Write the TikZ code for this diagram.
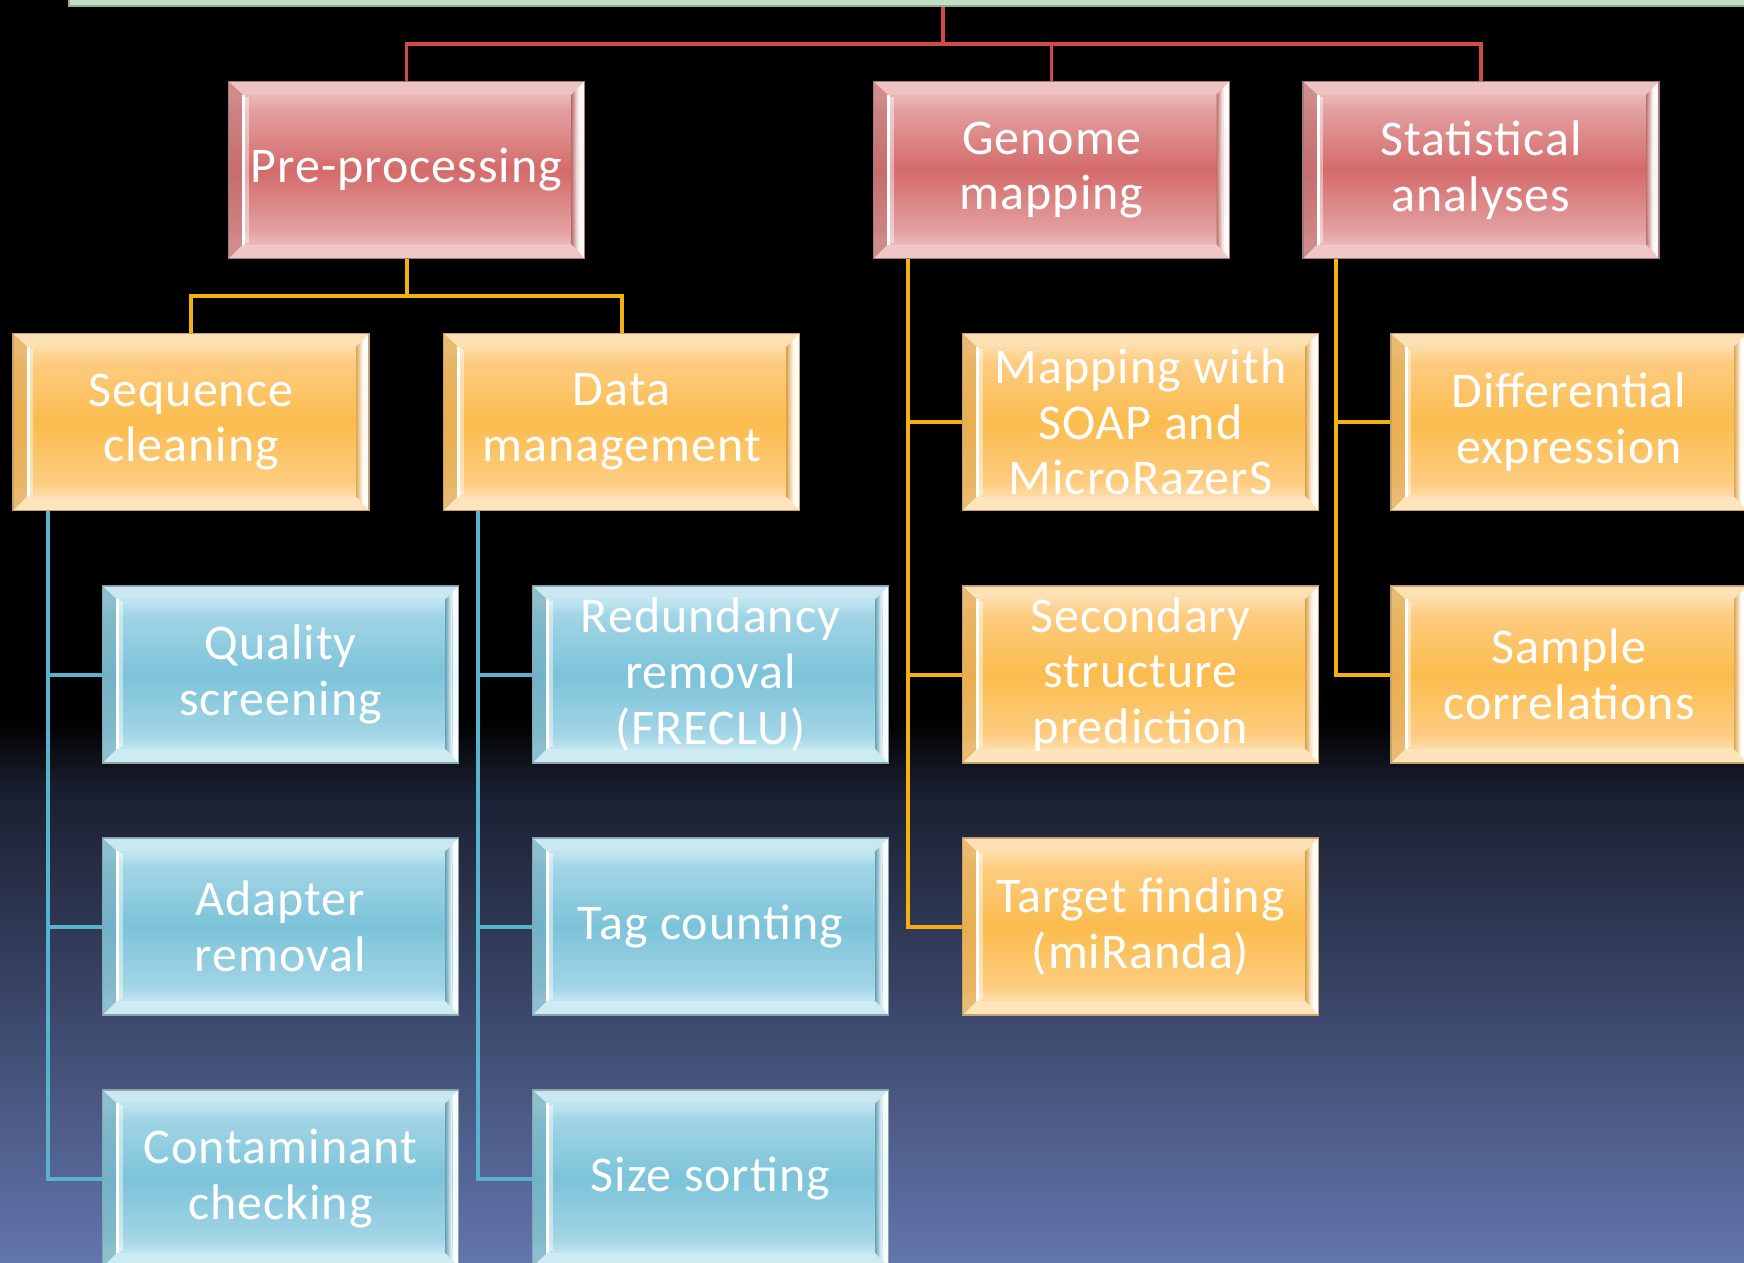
\documentclass[tikz,border=0pt]{standalone}
\usepackage{fontspec}
\setmainfont[LetterSpace=2]{Carlito}
\definecolor{rL}{HTML}{EBB5B5}
\definecolor{rM1}{HTML}{E3A0A0}
\definecolor{rM}{HTML}{D46A6A}
\definecolor{redbd}{HTML}{A07C7C}
\definecolor{reddk}{HTML}{BE7070}
\definecolor{oL}{HTML}{FDDBA4}
\definecolor{oM1}{HTML}{FDCC80}
\definecolor{oM}{HTML}{FBBC4E}
\definecolor{orabd}{HTML}{C4A26A}
\definecolor{oradk}{HTML}{DDA652}
\definecolor{bL}{HTML}{BEE4F0}
\definecolor{bM1}{HTML}{A2D5E5}
\definecolor{bM}{HTML}{7CC3D9}
\definecolor{blubd}{HTML}{8CA4AC}
\definecolor{bludk}{HTML}{6CA8BA}
\definecolor{redln}{HTML}{D04A4A}
\definecolor{oraln}{HTML}{F4B00E}
\definecolor{bluln}{HTML}{58B4CE}
\definecolor{bgmid}{HTML}{1A1F30}
\definecolor{bgbot}{HTML}{6275AD}
\definecolor{grn}{HTML}{C3DFC3}
\definecolor{grnbd}{HTML}{8FAF8F}
\pgfdeclareverticalshading{redshade}{100bp}{color(0bp)=(rL); color(29.5bp)=(rL); color(33bp)=(rM1); color(50bp)=(rM); color(67bp)=(rM1); color(70.5bp)=(rL); color(100bp)=(rL)}
\pgfdeclareverticalshading{orashade}{100bp}{color(0bp)=(oL); color(29.5bp)=(oL); color(33bp)=(oM1); color(50bp)=(oM); color(67bp)=(oM1); color(70.5bp)=(oL); color(100bp)=(oL)}
\pgfdeclareverticalshading{blushade}{100bp}{color(0bp)=(bL); color(29.5bp)=(bL); color(33bp)=(bM1); color(50bp)=(bM); color(67bp)=(bM1); color(70.5bp)=(bL); color(100bp)=(bL)}
\pgfdeclareverticalshading{bgshade}{100bp}{color(0bp)=(bgbot); color(25bp)=(bgbot); color(68.5bp)=(bgmid); color(75bp)=(black); color(100bp)=(black)}
\newcommand\bxfont{\fontsize{50}{55.6}\selectfont}
\tikzset{
  bx/.style={rectangle, minimum width=356pt, minimum height=177pt, inner sep=0pt,
    shade, shading=#1shade, draw=#1bd, line width=1.5pt, text=white, font=\bxfont, align=center,
    path picture={
      \coordinate (ppnw) at (path picture bounding box.north west);
      \coordinate (ppne) at (path picture bounding box.north east);
      \coordinate (ppsw) at (path picture bounding box.south west);
      \coordinate (ppse) at (path picture bounding box.south east);
      \fill[white,opacity=0.18] (ppnw) -- (ppne) -- ([xshift=-13pt,yshift=-13pt]ppne) -- ([xshift=14pt,yshift=-13pt]ppnw) -- cycle;
      \fill[white,opacity=0.25] (ppsw) -- (ppse) -- ([xshift=-13pt,yshift=14pt]ppse) -- ([xshift=14pt,yshift=14pt]ppsw) -- cycle;
      \fill[#1dk,opacity=0.6] (ppnw) -- ([xshift=14pt,yshift=-13pt]ppnw) -- ([xshift=14pt,yshift=14pt]ppsw) -- (ppsw) -- cycle;
      \draw[white,opacity=0.45,line width=4pt] ([xshift=18pt,yshift=-15pt]ppnw) -- ([xshift=18pt,yshift=16pt]ppsw);
      \draw[white,line width=3pt] ([xshift=15pt,yshift=-13pt]ppnw) -- ([xshift=15pt,yshift=14pt]ppsw);
      \shade[left color=#1dk, right color=white] ([xshift=-6pt,yshift=-6pt]ppne) -- ([xshift=-13pt,yshift=-13pt]ppne) -- ([xshift=-13pt,yshift=14pt]ppse) -- ([xshift=-6pt,yshift=7pt]ppse) -- cycle;
      \fill[white,opacity=0.92] (ppne) -- ([xshift=-6pt,yshift=-6pt]ppne) -- ([xshift=-6pt,yshift=7pt]ppse) -- (ppse) -- cycle;
    }},
  redline/.style={draw=redln, line width=3.5pt},
  oraline/.style={draw=oraln, line width=4pt},
  bluline/.style={draw=bluln, line width=4pt},
}
\begin{document}
\begin{tikzpicture}[x=1pt,y=-1pt]
\useasboundingbox (0,0) rectangle (1744,1262);
\clip (0,0) rectangle (1744,1262);
\fill[black] (0,0) rectangle (1744,722);
\shade[shading=bgshade] (0,720) rectangle (1744,1262);
% root bar (cut off at top)
\node[rectangle, minimum width=1748pt, minimum height=206pt, fill=grn, draw=grnbd, line width=1.5pt] (root) at (943,-97) {};
% level 1
\node[bx=red] (pre) at (406.5,170) {Pre-processing};
\node[bx=red] (gm) at (1051.5,170) {Genome\\mapping};
\node[bx=red] (sa) at (1481,170) {Statistical\\analyses};
% level 2
\node[bx=ora] (seq) at (191,422) {Sequence\\cleaning};
\node[bx=ora] (dm) at (621.5,422) {Data\\management};
\node[bx=ora] (map) at (1140.5,422) {Mapping with\\SOAP and\\MicroRazerS};
\node[bx=ora] (sec) at (1140.5,674.5) {Secondary\\structure\\prediction};
\node[bx=ora] (tf) at (1140.5,926.5) {Target finding\\(miRanda)};
\node[bx=ora] (diff) at (1569,422) {Differential\\expression};
\node[bx=ora] (samp) at (1569,674.5) {Sample\\correlations};
% level 3
\node[bx=blu] (qs) at (280.5,674.5) {Quality\\screening};
\node[bx=blu] (ar) at (280.5,926.5) {Adapter\\removal};
\node[bx=blu] (cc) at (280.5,1178.5) {Contaminant\\checking};
\node[bx=blu] (rr) at (710.5,674.5) {Redundancy\\removal\\(FRECLU)};
\node[bx=blu] (tc) at (710.5,926.5) {Tag counting};
\node[bx=blu] (ss) at (710.5,1178.5) {Size sorting};
% connectors
\coordinate (rj) at (root.south |- 0,44);
\draw[redline] (root.south) -- (rj) -| (pre.north);
\draw[redline] (rj) -| (gm.north);
\draw[redline] (rj) -| (sa.north);
\coordinate (pj) at (pre.south |- 0,296);
\draw[oraline] (pre.south) -- (pj) -| (seq.north);
\draw[oraline] (pj) -| (dm.north);
\draw[oraline] ([xshift=35pt]gm.south west) |- (map.west);
\draw[oraline] ([xshift=35pt]gm.south west) |- (sec.west);
\draw[oraline] ([xshift=35pt]gm.south west) |- (tf.west);
\draw[oraline] ([xshift=34pt]sa.south west) |- (diff.west);
\draw[oraline] ([xshift=34pt]sa.south west) |- (samp.west);
\draw[bluline] ([xshift=36pt]seq.south west) |- (qs.west);
\draw[bluline] ([xshift=36pt]seq.south west) |- (ar.west);
\draw[bluline] ([xshift=36pt]seq.south west) |- (cc.west);
\draw[bluline] ([xshift=35pt]dm.south west) |- (rr.west);
\draw[bluline] ([xshift=35pt]dm.south west) |- (tc.west);
\draw[bluline] ([xshift=35pt]dm.south west) |- (ss.west);
\end{tikzpicture}
\end{document}
